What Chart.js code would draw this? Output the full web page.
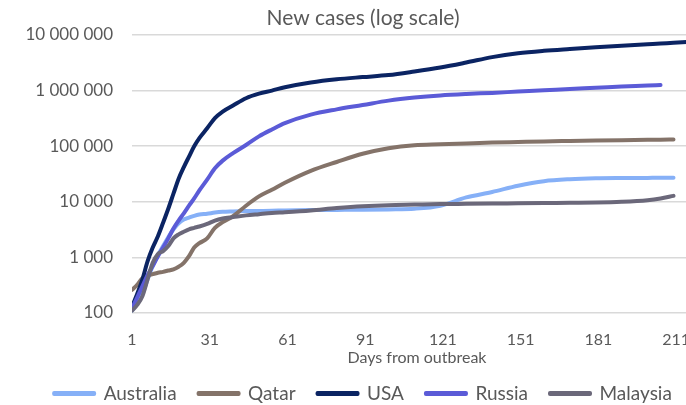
<!DOCTYPE html>
<html>
<head>
<meta charset="utf-8">
<script src="https://cdn.jsdelivr.net/npm/chart.js@4"></script>
<style>
  html, body { margin: 0; padding: 0; background: #ffffff; overflow: hidden; width: 686px; height: 405px; }
  #wrap { position: absolute; left: 0; top: 0; width: 720px; height: 413px; }
</style>
</head>
<body>
<div id="wrap"><canvas id="c" width="720" height="413"></canvas></div>
<script>
const TITLE = 'New cases (log scale)';
const X_TITLE = 'Days from outbreak';
const X_TICKS = [1, 31, 61, 91, 121, 151, 181, 211];
const Y_TICKS = [100, 1000, 10000, 100000, 1000000, 10000000];
const SERIES_NAMES = ['Australia', 'Qatar', 'USA', 'Russia', 'Malaysia'];

const DAYS = [1,3,5,7,9,11,13,15,17,19,21,23,25,27,30,33,36,40,45,50,55,60,70,80,90,100,110,120,130,140,150,160,170,180,190,200,205,210,215];

const AUSTRALIA = [110,150,220,400,700,1100,1600,2300,3200,4100,4800,5200,5600,5900,6100,6400,6600,6700,6800,6850,6900,7000,7100,7150,7200,7300,7500,8500,12000,15000,19500,23500,25500,26500,26800,26900,27000,27000,null];
const QATAR = [260,320,420,470,500,530,550,580,610,680,800,1050,1500,1800,2200,3400,4300,5500,8500,12500,16500,22000,36000,52000,73000,92000,104000,108000,112000,116000,119000,122000,124000,126000,128000,130000,131000,132000,null];
const USA = [130,220,400,850,1500,2400,4200,7500,14000,26000,42000,65000,100000,140000,210000,320000,420000,540000,730000,880000,1000000,1150000,1400000,1600000,1750000,1900000,2200000,2600000,3200000,4000000,4700000,5200000,5600000,6000000,6400000,6800000,7000000,7250000,7450000];
const RUSSIA = [120,190,300,480,700,1050,1500,2200,3300,4600,6200,8500,11500,16000,25000,40000,55000,75000,105000,150000,200000,260000,370000,460000,550000,660000,750000,820000,870000,910000,960000,1010000,1070000,1120000,1180000,1230000,1260000,null,null];
const MALAYSIA = [110,140,200,400,800,1150,1300,1600,2200,2600,2900,3200,3400,3600,4000,4600,5000,5300,5700,6000,6300,6500,7000,7700,8300,8700,8900,9100,9200,9300,9400,9500,9600,9700,10000,10700,11500,12800,null];

const COLORS = ['#86b0f7', '#847369', '#0b2463', '#5b5bd7', '#6b687a'];
const VALUES = [AUSTRALIA, QATAR, USA, RUSSIA, MALAYSIA];
const DRAW_ORDER = [5, 4, 3, 2, 1];

const FONT = 'Lato, "DejaVu Sans", sans-serif';
const TEXT = '#595959';

function fmt(v) { return String(v).replace(/\B(?=(\d{3})+(?!\d))/g, ' '); }

const datasets = SERIES_NAMES.map((name, i) => ({
  label: name,
  data: DAYS.map((d, j) => ({ x: d, y: VALUES[i][j] })),
  borderColor: COLORS[i],
  backgroundColor: COLORS[i],
  borderWidth: 4,
  pointRadius: 0,
  borderCapStyle: 'round',
  borderJoinStyle: 'round',
  cubicInterpolationMode: 'monotone',
  spanGaps: false,
  order: DRAW_ORDER[i]
}));

new Chart(document.getElementById('c'), {
  type: 'line',
  data: { datasets },
  options: {
    responsive: false,
    animation: false,
    events: [],
    layout: { padding: { left: 24, right: 18, top: 0, bottom: 0 } },
    plugins: {
      title: {
        display: true,
        text: TITLE,
        color: TEXT,
        font: { family: FONT, size: 21, weight: 'normal' },
        padding: { top: 5.4, bottom: 4.4 }
      },
      legend: {
        position: 'bottom',
        labels: {
          color: TEXT,
          font: { family: FONT, size: 19 },
          boxWidth: 40,
          boxHeight: 1,
          padding: 22,
          sort: (a, b) => a.datasetIndex - b.datasetIndex
        }
      },
      tooltip: { enabled: false }
    },
    scales: {
      x: {
        type: 'linear',
        min: 1,
        max: 221,
        afterBuildTicks: (axis) => { axis.ticks = X_TICKS.map(v => ({ value: v })); },
        afterFit: (axis) => { axis.height = 49; },
        grid: { display: false, drawTicks: false },
        border: { display: false },
        ticks: {
          color: TEXT,
          font: { family: FONT, size: 16 },
          padding: 17.5,
          autoSkip: false,
          maxRotation: 0,
          callback: (v) => String(v)
        },
        title: {
          display: true,
          text: X_TITLE,
          color: TEXT,
          font: { family: FONT, size: 16 },
          padding: { top: 0, bottom: -5.6 }
        }
      },
      y: {
        type: 'logarithmic',
        min: 100,
        max: 10000000,
        afterBuildTicks: (axis) => { axis.ticks = Y_TICKS.map(v => ({ value: v })); },
        afterFit: (axis) => { axis.width = 108; },
        grid: { color: '#d9d9d9', lineWidth: 1.5, drawTicks: false },
        border: { display: false },
        ticks: {
          color: TEXT,
          font: { family: FONT, size: 17 },
          padding: 19,
          callback: (v) => fmt(v)
        }
      }
    }
  }
});
</script>
</body>
</html>
